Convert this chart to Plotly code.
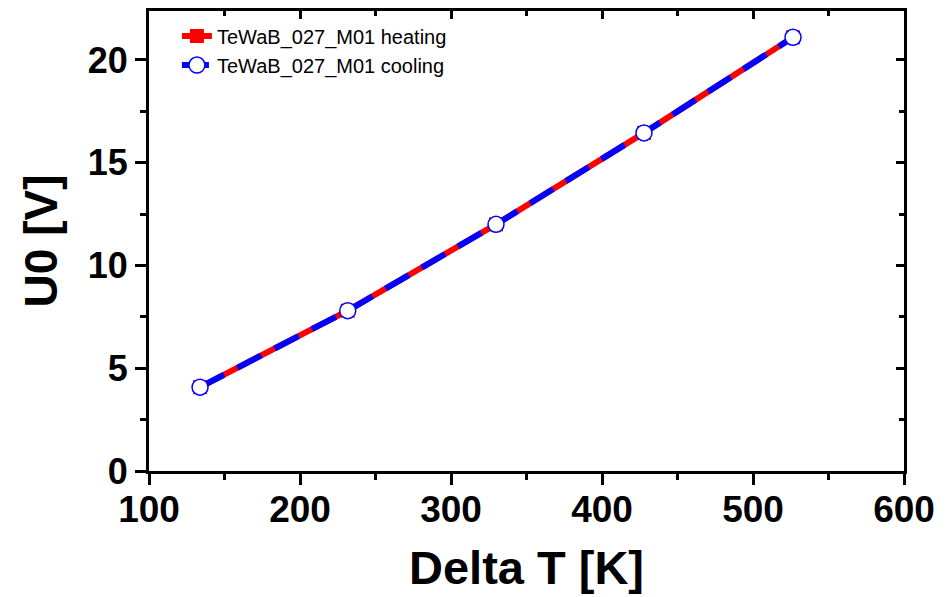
import plotly.graph_objects as go

delta_t_heating = [133.8, 231.6, 329.8, 427.8, 526.5]
u0_heating = [4.08, 7.80, 12.0, 16.45, 21.1]
delta_t_cooling = [133.8, 231.6, 329.8, 427.8, 526.5]
u0_cooling = [4.08, 7.80, 12.0, 16.45, 21.1]

x_ticks = [100, 200, 300, 400, 500, 600]
y_ticks = [0, 5, 10, 15, 20]

fig = go.Figure()
fig.add_trace(go.Scatter(
    x=delta_t_heating, y=u0_heating, mode="lines+markers",
    name="TeWaB_027_M01 heating",
    line=dict(color="#ff0000", width=6),
    marker=dict(symbol="square", size=14, color="#ff0000"),
))
fig.add_trace(go.Scatter(
    x=delta_t_cooling, y=u0_cooling, mode="lines+markers",
    name="TeWaB_027_M01 cooling",
    line=dict(color="#0000ff", width=6, dash="27px,15px"),
    marker=dict(symbol="circle", size=16, color="white", line=dict(color="#0000ff", width=1.5)),
))

font_family = "Liberation Sans, Arial, sans-serif"
fig.update_layout(
    width=949, height=597,
    margin=dict(l=141, r=53, t=3, b=134, autoexpand=False),
    paper_bgcolor="white", plot_bgcolor="white",
    showlegend=True,
    legend=dict(x=0.037, y=0.988, xanchor="left", yanchor="top",
                font=dict(family=font_family, size=20, color="black"),
                bgcolor="rgba(0,0,0,0)", tracegroupgap=0),
    xaxis=dict(range=[100, 600], tickvals=x_ticks, ticktext=[str(v) for v in x_ticks],
               automargin=False,
               showgrid=False, zeroline=False, showline=True, linecolor="black", linewidth=3,
               ticks="outside", ticklen=11, tickwidth=3, tickcolor="black",
               ticklabelstandoff=-7,
               minor=dict(dtick=50, tick0=100, ticks="outside", ticklen=6, tickwidth=3, tickcolor="black"),
               tickfont=dict(family=font_family, size=37, color="black", weight="bold"),
               title=dict(text="Delta T [K]", font=dict(family=font_family, size=47, color="black", weight="bold"), standoff=22)),
    yaxis=dict(range=[0, 22.38], tickvals=y_ticks, ticktext=[str(v) for v in y_ticks],
               automargin=False,
               showgrid=False, zeroline=False, showline=True, linecolor="black", linewidth=3,
               ticks="outside", ticklen=11, tickwidth=3, tickcolor="black",
               minor=dict(dtick=2.5, tick0=0, ticks="outside", ticklen=6, tickwidth=3, tickcolor="black"),
               tickfont=dict(family=font_family, size=36, color="black", weight="bold"),
               title=dict(text="U0 [V]", font=dict(family=font_family, size=46, color="black", weight="bold"), standoff=16)),
    xaxis2=dict(range=[100, 600], overlaying="x", side="top", tickvals=x_ticks, showticklabels=False,
                automargin=False,
                showgrid=False, zeroline=False, showline=True, linecolor="black", linewidth=3,
                ticks="inside", ticklen=8, tickwidth=3, tickcolor="black",
                minor=dict(dtick=50, tick0=100, ticks="inside", ticklen=5, tickwidth=3, tickcolor="black")),
    yaxis2=dict(range=[0, 22.38], overlaying="y", side="right", tickvals=y_ticks, showticklabels=False,
                automargin=False,
                showgrid=False, zeroline=False, showline=True, linecolor="black", linewidth=3,
                ticks="inside", ticklen=8, tickwidth=3, tickcolor="black",
                minor=dict(dtick=2.5, tick0=0, ticks="inside", ticklen=5, tickwidth=3, tickcolor="black")),
)
# invisible helper trace to anchor the mirror axes
fig.add_trace(go.Scatter(x=[delta_t_heating[0]], y=[u0_heating[0]], xaxis="x2", yaxis="y2",
                         mode="markers", marker=dict(opacity=0), showlegend=False, hoverinfo="skip"))

fig.write_html("out.html")
